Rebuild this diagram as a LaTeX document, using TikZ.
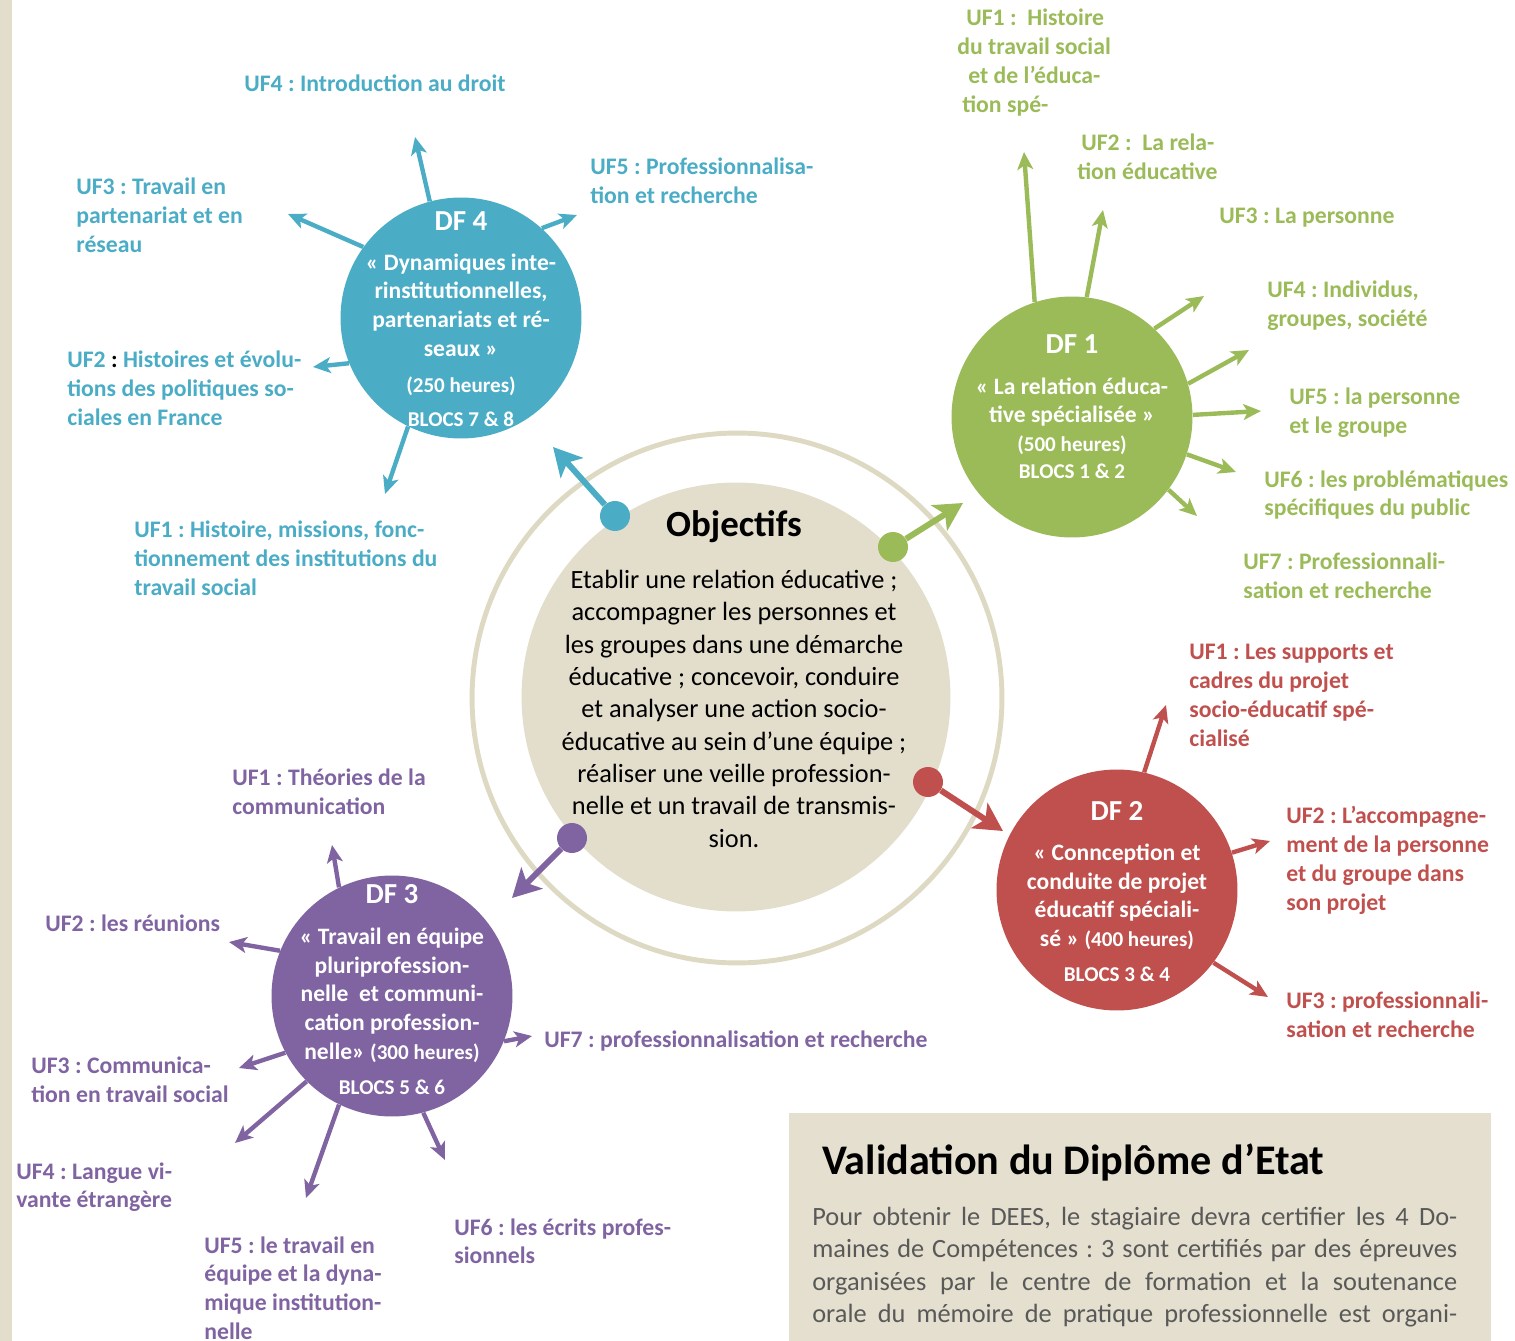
\documentclass[tikz,border=0pt]{standalone}
\usepackage{fontspec}
\setmainfont{Carlito}
\usetikzlibrary{arrows.meta}
\definecolor{dfblue}{RGB}{75,172,198}
\definecolor{dfgreen}{RGB}{155,187,89}
\definecolor{dfred}{RGB}{192,80,77}
\definecolor{dfpurple}{RGB}{128,100,162}
\definecolor{beigefill}{RGB}{227,222,204}
\definecolor{beigering}{RGB}{221,217,195}
\definecolor{boxfill}{RGB}{228,223,206}
\definecolor{bodygray}{RGB}{89,89,89}
\newcommand{\uffont}{\fontsize{13.5pt}{16.4pt}\selectfont\bfseries}
\newcommand{\dfbody}{\fontsize{13.4pt}{16.4pt}\selectfont\bfseries}
\newcommand{\dftitle}{\fontsize{16.5pt}{18pt}\selectfont\bfseries}
\newcommand{\dfsmall}{\fontsize{12pt}{14pt}\selectfont\bfseries}
\newcommand{\objtitle}{\fontsize{21pt}{24pt}\selectfont\bfseries}
\newcommand{\objbody}{\fontsize{15pt}{18.4pt}\selectfont}
\newcommand{\valtitle}{\fontsize{24pt}{28pt}\selectfont\bfseries}
\newcommand{\valbody}{\fontsize{15pt}{18.4pt}\selectfont}
\frenchspacing

\begin{document}
\begin{tikzpicture}[x=0.02cm, y=-0.02cm,
    dfcircle/.style={circle, inner sep=0pt, minimum size=4.82cm},
    dftext/.style={anchor=north, inner sep=0pt, align=center, text=white, font=\dfbody},
    uf/.style={anchor=north west, inner sep=0pt, align=left, font=\uffont},
    spoke/.style={line width=2.5pt, -{Stealth[length=10pt, width=9pt, inset=2.5pt]}},
    dot/.style={circle, inner sep=0pt, minimum size=0.6cm},
    bigarrow/.style={line width=3.4pt, -{Stealth[length=16pt, width=17pt, inset=4pt]}}
]
\useasboundingbox (0,0) rectangle (1515,1341);

% side strip
\fill[beigefill] (0,0) rectangle (12,1341);

% Objectifs
\node[circle, draw=beigering, line width=2.8pt, minimum size=10.6cm] (ring) at (737,698) {};
\node[circle, fill=beigefill, minimum size=8.58cm] (obj) at (736,697) {};
\node[anchor=base, inner sep=0pt, font=\objtitle] (objtitle) at (734,537) {Objectifs};
\node[anchor=north, inner sep=0pt, align=center, font=\objbody] (objbody) at (734,570)
    {Etablir une relation éducative ;\\accompagner les personnes et\\les groupes dans une démarche\\
     éducative ; concevoir, conduire\\et analyser une action socio-\\éducative au sein d’une équipe ;\\
     réaliser une veille profession-\\nelle et un travail de transmis-\\sion.};

% dots and arrows to the DF
\node[dot, fill=dfblue] (dot4) at (615,516) {};
\node[dot, fill=dfgreen] (dot1) at (893,547) {};
\node[dot, fill=dfred] (dot2) at (928,782) {};
\node[dot, fill=dfpurple] (dot3) at (572,838) {};
\coordinate (a4) at (553,447);
\coordinate (a1) at (963,503);
\coordinate (a2) at (1003,831);
\coordinate (a3) at (512,898);
\draw[bigarrow, dfblue] (dot4) -- (a4);
\draw[bigarrow, dfgreen] (dot1) -- (a1);
\draw[bigarrow, dfred] (dot2) -- (a2);
\draw[bigarrow, dfpurple] (dot3) -- (a3);

% DF circles
\node[dfcircle, fill=dfblue] (df4) at (461,318) {};
\node[dfcircle, fill=dfgreen] (df1) at (1072,417) {};
\node[dfcircle, fill=dfred] (df2) at (1117,890) {};
\node[dfcircle, fill=dfpurple] (df3) at (392,996) {};

\node[dftext] (df4txt) at (461,211) {{\dftitle DF 4}\\[6.3pt]
    « Dynamiques inte-\\rinstitutionnelles,\\partenariats et ré-\\seaux »\\[4pt]
    {\dfsmall (250 heures)}\\[3pt]{\dfsmall BLOCS 7 \& 8}};
\node[dftext] (df1txt) at (1072,334) {{\dftitle DF 1}\\[6.9pt]
    « La relation éduca-\\tive spécialisée »\\
    {\dfsmall (500 heures)}\\[-1.1pt]{\dfsmall BLOCS 1 \& 2}};
\node[dftext] (df2txt) at (1117,801) {{\dftitle DF 2}\\[6.3pt]
    « Connception et\\conduite de projet\\éducatif spéciali-\\sé » {\dfsmall (400 heures)}\\[3.5pt]
    {\dfsmall BLOCS 3 \& 4}};
\node[dftext] (df3txt) at (392,884) {{\dftitle DF 3}\\[6.9pt]
    « Travail en équipe\\pluriprofession-\\nelle~ et communi-\\cation profession-\\
    nelle» {\dfsmall (300 heures)}\\[3.5pt]{\dfsmall BLOCS 5 \& 6}};

% DF 4 spokes
\coordinate (t4uf4) at (415,137);
\coordinate (t4uf3) at (288,214);
\coordinate (t4uf5) at (577,215);
\coordinate (t4uf2) at (313,367);
\coordinate (t4uf1) at (385,494);
\draw[spoke, dfblue] (df4.105.6) -- (t4uf4);
\draw[spoke, dfblue] (df4.144) -- (t4uf3);
\draw[spoke, dfblue] (df4.48.5) -- (t4uf5);
\draw[spoke, dfblue] (df4.202) -- (t4uf2);
\draw[spoke, dfblue] (df4.244) -- (t4uf1);

% DF 1 spokes
\coordinate (t1uf1) at (1024,152);
\coordinate (t1uf2) at (1103,210);
\coordinate (t1uf3) at (1204,296);
\coordinate (t1uf4) at (1249,350);
\coordinate (t1uf5) at (1261,411);
\coordinate (t1uf6) at (1236,472);
\coordinate (t1uf7) at (1197,516);
\draw[spoke, dfgreen] (df1.108.9) -- (t1uf1);
\draw[spoke, dfgreen] (df1.83.3) -- (t1uf2);
\draw[spoke, dfgreen] (df1.47) -- (t1uf3);
\draw[spoke, dfgreen] (df1.16.3) -- (t1uf4);
\draw[spoke, dfgreen] (df1.1.4) -- (t1uf5);
\draw[spoke, dfgreen] (df1.-18.6) -- (t1uf6);
\draw[spoke, dfgreen] (df1.-37.4) -- (t1uf7);

% DF 2 spokes
\coordinate (t2uf1) at (1166,705);
\coordinate (t2uf2) at (1270,841);
\coordinate (t2uf3) at (1268,997);
\draw[spoke, dfred] (df2.77) -- (t2uf1);
\draw[spoke, dfred] (df2.18.7) -- (t2uf2);
\draw[spoke, dfred] (df2.-37.2) -- (t2uf3);

% DF 3 spokes
\coordinate (t3uf1) at (332,845);
\coordinate (t3uf2) at (229,942);
\coordinate (t3uf3) at (239,1068);
\coordinate (t3uf4) at (235,1143);
\coordinate (t3uf5) at (306,1198);
\coordinate (t3uf6) at (445,1160);
\coordinate (t3uf7) at (532,1036);
\draw[spoke, dfpurple] (df3.116.4) -- (t3uf1);
\draw[spoke, dfpurple] (df3.158.4) -- (t3uf2);
\draw[spoke, dfpurple] (df3.208.3) -- (t3uf3);
\draw[spoke, dfpurple] (df3.225) -- (t3uf4);
\draw[spoke, dfpurple] (df3.244.3) -- (t3uf5);
\draw[spoke, dfpurple] (df3.285.2) -- (t3uf6);
\draw[spoke, dfpurple] (df3.338.7) -- (t3uf7);

% DF 4 labels
\node[uf, text=dfblue] (l4uf4) at (244,74) {UF4 : Introduction au droit};
\node[uf, text=dfblue] (l4uf3) at (76,178) {UF3 : Travail en\\partenariat et en\\réseau};
\node[uf, text=dfblue] (l4uf5) at (590,158) {UF5 : Professionnalisa-\\tion et recherche};
\node[uf, text=dfblue] (l4uf2) at (67,351) {UF2 {\color{black}:} Histoires et évolu-\\tions des politiques so-\\ciales en France};
\node[uf, text=dfblue] (l4uf1) at (134,521) {UF1 : Histoire, missions, fonc-\\tionnement des institutions du\\travail social};

% DF 1 labels
\node[uf, text=dfgreen] (l1uf1) at (957,9) {\hspace*{0.18cm}UF1 :~~Histoire\\du travail social\\\hspace*{0.22cm}et de l’éduca-\\\hspace*{0.1cm}tion spé-};
\node[uf, text=dfgreen] (l1uf2) at (1077,134) {\hspace*{0.08cm}UF2 :~~La rela-\\tion éducative};
\node[uf, text=dfgreen] (l1uf3) at (1219,208) {UF3 : La personne};
\node[uf, text=dfgreen] (l1uf4) at (1267,281) {UF4 : Individus,\\groupes, société};
\node[uf, text=dfgreen] (l1uf5) at (1289,388) {UF5 : la personne\\et le groupe};
\node[uf, text=dfgreen] (l1uf6) at (1264,470) {UF6 : les problématiques\\spécifiques du public};
\node[uf, text=dfgreen] (l1uf7) at (1243,553) {UF7 : Professionnali-\\sation et recherche};

% DF 2 labels
\node[uf, text=dfred] (l2uf1) at (1189,644) {UF1 : Les supports et\\cadres du projet\\socio-éducatif spé-\\cialisé};
\node[uf, text=dfred] (l2uf2) at (1286,806) {UF2 : L’accompagne-\\ment de la personne\\et du groupe dans\\son projet};
\node[uf, text=dfred] (l2uf3) at (1286,992) {UF3 : professionnali-\\sation et recherche};

% DF 3 labels
\node[uf, text=dfpurple] (l3uf1) at (232,769) {UF1 : Théories de la\\communication};
\node[uf, text=dfpurple] (l3uf2) at (45,915) {UF2 : les réunions};
\node[uf, text=dfpurple] (l3uf3) at (31,1057) {UF3 : Communica-\\tion en travail social};
\node[uf, text=dfpurple] (l3uf4) at (16,1162) {UF4 : Langue vi-\\vante étrangère};
\node[uf, text=dfpurple] (l3uf5) at (204,1236) {UF5 : le travail en\\équipe et la dyna-\\mique institution-\\nelle};
\node[uf, text=dfpurple] (l3uf6) at (454,1218) {UF6 : les écrits profes-\\sionnels};
\node[uf, text=dfpurple] (l3uf7) at (544,1030) {UF7 : professionnalisation et recherche};

% Validation box
\fill[boxfill] (789,1113) rectangle (1491,1380);
\node[anchor=base west, inner sep=0pt, font=\valtitle] (valtitle) at (822,1174) {Validation du Diplôme d’Etat};
\node[anchor=north west, inner sep=0pt, align=left, font=\valbody, text=bodygray] (valbody) at (812,1207)
    {\makebox[12.9cm][s]{Pour obtenir le DEES, le stagiaire devra certifier les 4 Do-}\\
     \makebox[12.9cm][s]{maines de Compétences : 3 sont certifiés par des épreuves}\\
     \makebox[12.9cm][s]{organisées par le centre de formation et la soutenance}\\
     \makebox[12.9cm][s]{orale du mémoire de pratique professionnelle est organi-}};

\end{tikzpicture}
\end{document}
